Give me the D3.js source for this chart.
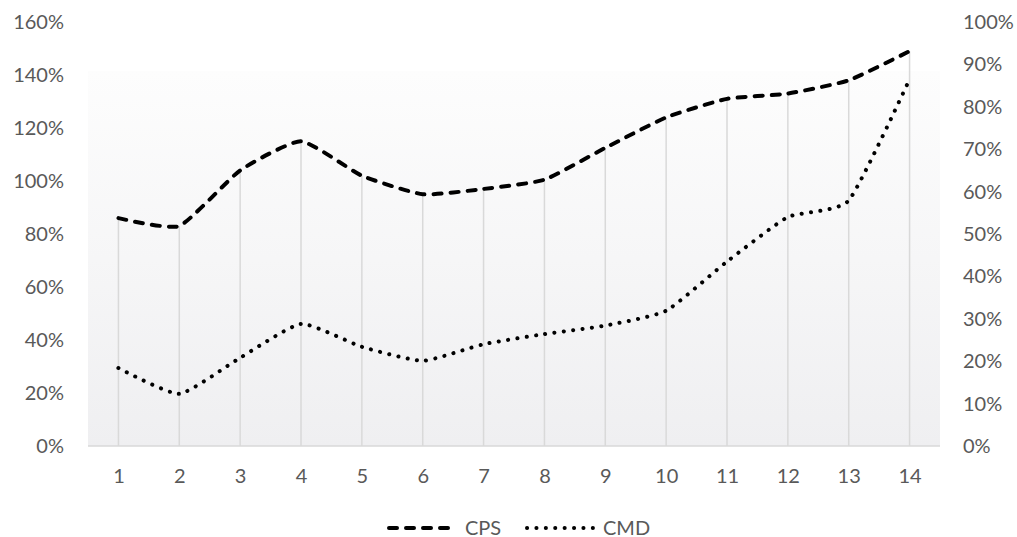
<!DOCTYPE html>
<html>
<head>
<meta charset="utf-8">
<script src="https://cdn.jsdelivr.net/npm/d3@7"></script>
<style>
  body { margin: 0; background: #fff; }
  text { font-family: Lato, "Open Sans", sans-serif; fill: #595959; }
</style>
</head>
<body>
<svg id="chart" width="1017" height="537"></svg>
<script>
// categories on the x axis
const categories = ['1', '2', '3', '4', '5', '6', '7', '8', '9', '10', '11', '12', '13', '14'];
// CPS on the left axis, CMD on the right axis
const cps = [0.86, 0.83, 1.04, 1.15, 1.02, 0.95, 0.97, 1.005, 1.125, 1.24, 1.31, 1.33, 1.38, 1.49];
const cmd = [0.184, 0.123, 0.208, 0.288, 0.234, 0.201, 0.24, 0.264, 0.284, 0.319, 0.435, 0.54, 0.579, 0.865];
const leftTicks = [0, 0.2, 0.4, 0.6, 0.8, 1.0, 1.2, 1.4, 1.6];
const rightTicks = [0, 0.1, 0.2, 0.3, 0.4, 0.5, 0.6, 0.7, 0.8, 0.9, 1.0];
const seriesNames = ['CPS', 'CMD'];

const svg = d3.select('#chart');
const plotLeft = 88, plotRight = 940, plotTop = 22, plotBottom = 446;

// scales
const x = d3.scalePoint().domain(categories).range([plotLeft, plotRight]).padding(0.5);
const yL = d3.scaleLinear().domain([0, 1.6]).range([plotBottom, plotTop]);
const yR = d3.scaleLinear().domain([0, 1]).range([plotBottom, plotTop]);

// plot area fill, light grey fading up to white
const grad = svg.append('defs').append('linearGradient')
  .attr('id', 'bg').attr('x1', 0).attr('y1', 0).attr('x2', 0).attr('y2', 1);
grad.append('stop').attr('offset', '0%').attr('stop-color', '#fdfdfd');
grad.append('stop').attr('offset', '100%').attr('stop-color', '#efeff1');
svg.append('rect')
  .attr('x', plotLeft).attr('y', 71)
  .attr('width', plotRight - plotLeft).attr('height', plotBottom - 71)
  .attr('fill', 'url(#bg)');

// drop lines from the axis up to CPS
svg.append('g').selectAll('line')
  .data(categories)
  .enter()
  .append('line')
  .attr('x1', (d) => x(d)).attr('x2', (d) => x(d))
  .attr('y1', plotBottom).attr('y2', (d, i) => yL(cps[i]))
  .attr('stroke', '#d9d9d9').attr('stroke-width', 1.5);

// base line
svg.append('line')
  .attr('x1', plotLeft).attr('x2', plotRight)
  .attr('y1', plotBottom).attr('y2', plotBottom)
  .attr('stroke', '#d9d9d9').attr('stroke-width', 1.5);

// axes
const pct = d3.format('.0%');
const axL = svg.append('g').attr('transform', `translate(${plotLeft},0)`)
  .call(d3.axisLeft(yL).tickValues(leftTicks).tickFormat(pct).tickSize(0).tickPadding(24));
const axR = svg.append('g').attr('transform', `translate(${plotRight},0)`)
  .call(d3.axisRight(yR).tickValues(rightTicks).tickFormat(pct).tickSize(0).tickPadding(23));
const axX = svg.append('g').attr('transform', `translate(0,${plotBottom})`)
  .call(d3.axisBottom(x).tickSize(0).tickPadding(23));
[axL, axR, axX].forEach((g) => {
  g.select('.domain').remove();
  g.selectAll('text').attr('fill', '#595959')
    .style('font-family', 'Lato, "Open Sans", sans-serif').style('font-size', '20px');
});

// the two lines, lightly smoothed like the original
const cpsLine = d3.line()
  .x((d, i) => x(categories[i]))
  .y((d) => yL(d))
  .curve(d3.curveCardinal.tension(0.5));
const cmdLine = d3.line()
  .x((d, i) => x(categories[i]))
  .y((d) => yR(d))
  .curve(d3.curveCardinal.tension(0.5));

const dashCps = '8,9';
const dashCmd = '0.1,9.3';

svg.append('path').datum(cps)
  .attr('d', cpsLine)
  .attr('fill', 'none').attr('stroke', '#000').attr('stroke-width', 4)
  .attr('stroke-linecap', 'round').attr('stroke-dasharray', dashCps);

svg.append('path').datum(cmd)
  .attr('d', cmdLine)
  .attr('fill', 'none').attr('stroke', '#000').attr('stroke-width', 4)
  .attr('stroke-linecap', 'round').attr('stroke-dasharray', dashCmd);

// legend (sits right at the bottom edge, as in the original)
const legendY = 528;
const legend = [
  { name: seriesNames[0], x: 389, dash: dashCps },
  { name: seriesNames[1], x: 527, dash: dashCmd }
];
legend.forEach((d) => {
  svg.append('line')
    .attr('x1', d.x).attr('x2', d.x + 66)
    .attr('y1', legendY).attr('y2', legendY)
    .attr('stroke', '#000').attr('stroke-width', 4)
    .attr('stroke-linecap', 'round').attr('stroke-dasharray', d.dash);
  svg.append('text')
    .attr('x', d.x + 76).attr('y', legendY)
    .attr('dy', '0.35em')
    .style('font-size', '20px')
    .text(d.name);
});
</script>
</body>
</html>
